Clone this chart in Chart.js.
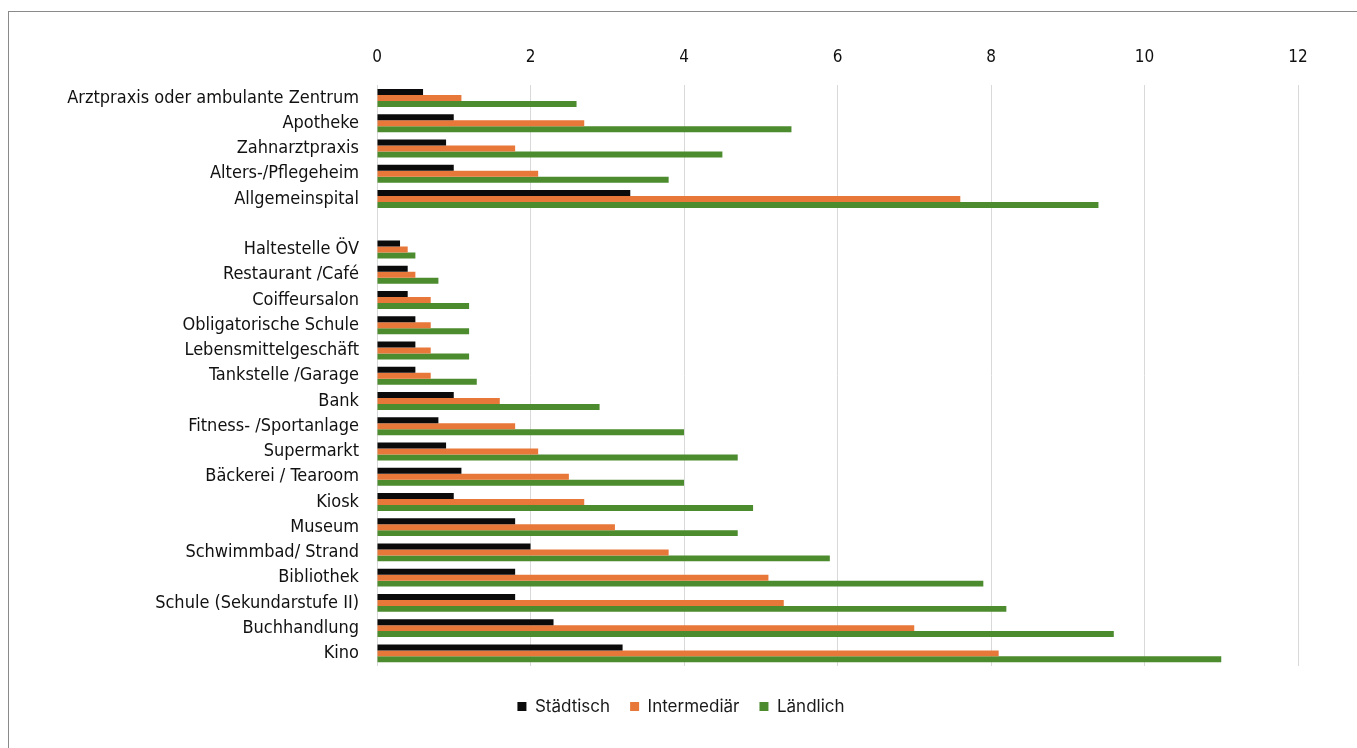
<!DOCTYPE html>
<html>
<head>
<meta charset="utf-8">
<script src="https://cdn.jsdelivr.net/npm/chart.js@4"></script>
<style>
  html, body { margin: 0; padding: 0; background: #fff; }
  #wrap { position: relative; width: 1357px; height: 748px; }
  #frame { position: absolute; left: 8px; top: 11px; right: 0; bottom: 0;
           border-left: 1px solid #8a8a8a; border-top: 1px solid #8a8a8a; }
  canvas { position: absolute; left: 0; top: 0; }
</style>
</head>
<body>
<div id="wrap">
  <div id="frame"></div>
  <canvas id="chart" width="1357" height="748"></canvas>
</div>
<script>
// Kategorien (leerer Eintrag = Lücke zwischen den beiden Gruppen)
const categories = [
  'Arztpraxis oder ambulante Zentrum', 'Apotheke', 'Zahnarztpraxis', 'Alters-/Pflegeheim', 'Allgemeinspital',
  '',
  'Haltestelle ÖV', 'Restaurant /Café', 'Coiffeursalon', 'Obligatorische Schule', 'Lebensmittelgeschäft',
  'Tankstelle /Garage', 'Bank', 'Fitness- /Sportanlage', 'Supermarkt', 'Bäckerei / Tearoom', 'Kiosk',
  'Museum', 'Schwimmbad/ Strand', 'Bibliothek', 'Schule (Sekundarstufe II)', 'Buchhandlung', 'Kino'
];

const staedtisch   = [0.6, 1.0, 0.9, 1.0, 3.3, null, 0.3, 0.4, 0.4, 0.5, 0.5, 0.5, 1.0, 0.8, 0.9, 1.1, 1.0, 1.8, 2.0, 1.8, 1.8, 2.3, 3.2];
const intermediaer = [1.1, 2.7, 1.8, 2.1, 7.6, null, 0.4, 0.5, 0.7, 0.7, 0.7, 0.7, 1.6, 1.8, 2.1, 2.5, 2.7, 3.1, 3.8, 5.1, 5.3, 7.0, 8.1];
const laendlich    = [2.6, 5.4, 4.5, 3.8, 9.4, null, 0.5, 0.8, 1.2, 1.2, 1.2, 1.3, 2.9, 4.0, 4.7, 4.0, 4.9, 4.7, 5.9, 7.9, 8.2, 9.6, 11.0];

const seriesNames = ['Städtisch', 'Intermediär', 'Ländlich'];
const seriesColors = ['#0b0b0b', '#e8773a', '#4d8b2f'];

const xTicks = [0, 2, 4, 6, 8, 10, 12];

const labelFont = "'Liberation Sans Narrow', 'DejaVu Sans Condensed', 'Noto Sans', sans-serif";
const padLeft = 64;

const ctx = document.getElementById('chart').getContext('2d');

new Chart(ctx, {
  type: 'bar',
  data: {
    labels: categories,
    datasets: [staedtisch, intermediaer, laendlich].map((d, i) => ({
      label: seriesNames[i],
      data: d,
      backgroundColor: seriesColors[i],
      borderWidth: 0,
      categoryPercentage: 0.71,
      barPercentage: 1.0
    }))
  },
  options: {
    indexAxis: 'y',
    responsive: false,
    animation: false,
    layout: { padding: { left: padLeft, right: 59, top: 29, bottom: 23 } },
    plugins: {
      legend: {
        position: 'bottom',
        title: { display: true, text: '', padding: 0, font: { size: 10 } },
        labels: {
          boxWidth: 9,
          boxHeight: 9,
          padding: 20,
          color: '#1a1a1a',
          font: { family: "Inter, 'Noto Sans', sans-serif", size: 17 }
        }
      },
      tooltip: { enabled: false }
    },
    scales: {
      x: {
        position: 'top',
        min: 0,
        max: 12,
        afterBuildTicks: scale => { scale.ticks = xTicks.map(v => ({ value: v })); },
        ticks: {
          padding: 18,
          color: '#111',
          font: { family: labelFont, size: 17 }
        },
        grid: { color: '#d9d9d9', drawTicks: false },
        border: { display: false }
      },
      y: {
        afterFit: scale => { scale.width = 377 - padLeft; },
        ticks: {
          padding: 10,
          color: '#111',
          autoSkip: false,
          font: { family: labelFont, size: 18 }
        },
        grid: { display: false },
        border: { display: false }
      }
    }
  }
});
</script>
</body>
</html>
